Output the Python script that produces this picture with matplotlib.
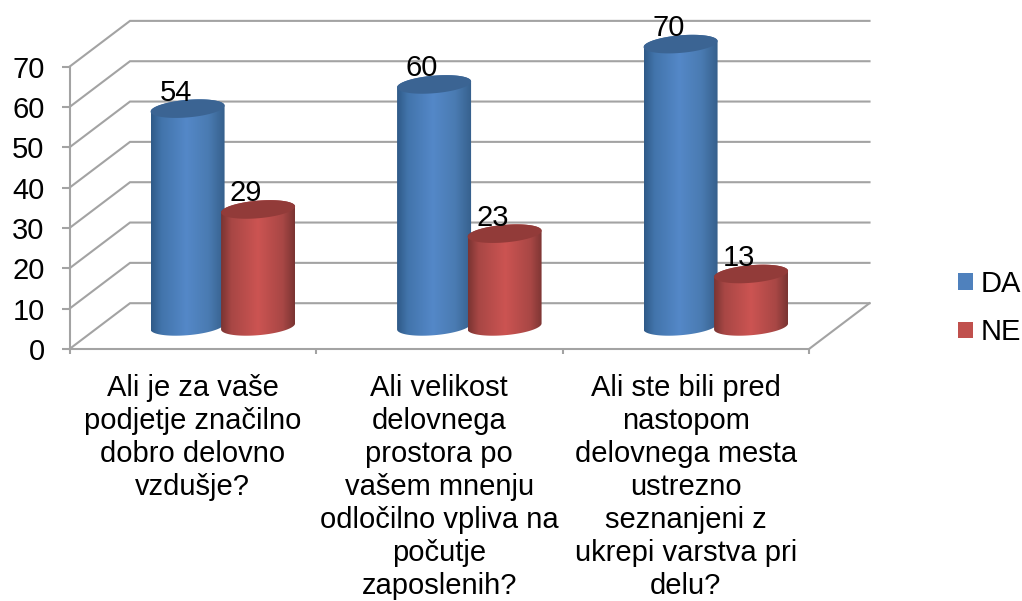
import numpy as np
import matplotlib
matplotlib.use("Agg")
import matplotlib.pyplot as plt
from matplotlib.colors import LinearSegmentedColormap
from matplotlib.patches import PathPatch, Patch
from matplotlib.path import Path

categories = [
    "Ali je za vaše\npodjetje značilno\ndobro delovno\nvzdušje?",
    "Ali velikost\ndelovnega\nprostora po\nvašem mnenju\nodločilno vpliva na\npočutje\nzaposlenih?",
    "Ali ste bili pred\nnastopom\ndelovnega mesta\nustrezno\nseznanjeni z\nukrepi varstva pri\ndelu?",
]
series_names = ["DA", "NE"]
da_values = [54, 60, 70]
ne_values = [29, 23, 13]
y_ticks = [0, 10, 20, 30, 40, 50, 60, 70]

plt.rcParams["font.family"] = ["Liberation Sans", "DejaVu Sans"]
FS = 21
W, H = 1022, 601
PX_X = 246.5          # pixels per category
PX_Y = 4.033          # pixels per value unit
X0, Y0 = 69.5, 349.0  # pixel of the origin
DEPTH_X = 60.5 / PX_X
DEPTH_Y = 45.8 / PX_Y
GRID = "#a3a3a3"

fig = plt.figure(figsize=(W / 100, H / 100), dpi=100)
ax = fig.add_axes([0, 0, 1, 1])
xlim = (-X0 / PX_X, (W - X0) / PX_X)
ylim = ((Y0 - H) / PX_Y, Y0 / PX_Y)

# back wall and side wall lines
for v in y_ticks:
    ax.plot([0, DEPTH_X, 3 + DEPTH_X], [v, v + DEPTH_Y, v + DEPTH_Y],
            color=GRID, lw=1.5, zorder=1, solid_joinstyle="miter")
ax.plot([3, 3 + DEPTH_X], [0, DEPTH_Y], color=GRID, lw=1.5, zorder=1)

def cylinder(cx, value, cmap, top_color):
    a = 37.0 / PX_X
    tilt = 3.0 / PX_Y
    b = 8.8 / PX_Y
    base = 5.6
    t = np.linspace(0, 2 * np.pi, 121)
    ex = a * np.cos(t)
    ey = tilt * np.cos(t) + b * np.sin(t)
    # body outline
    tu = np.linspace(0, np.pi, 61)
    tl = np.linspace(np.pi, 2 * np.pi, 61)
    top_x = cx + a * np.cos(tu)
    top_y = base + value + tilt * np.cos(tu) + b * np.sin(tu)
    bot_x = cx + a * np.cos(tl)
    bot_y = base + tilt * np.cos(tl) + b * np.sin(tl)
    verts = np.column_stack([np.r_[top_x, bot_x, top_x[0]], np.r_[top_y, bot_y, top_y[0]]])
    codes = [Path.MOVETO] + [Path.LINETO] * (len(verts) - 2) + [Path.CLOSEPOLY]
    clip = PathPatch(Path(verts, codes), transform=ax.transData, fc="none", ec="none")
    ax.add_patch(clip)
    grad = np.linspace(0, 1, 128).reshape(1, -1)
    im = ax.imshow(grad, cmap=cmap, aspect="auto", zorder=3, interpolation="bilinear",
                   extent=(cx - a, cx + a, base - b - tilt, base + value + b + tilt))
    im.set_clip_path(clip)
    ax.fill(cx + ex, base + value + ey, color=top_color, lw=0, zorder=3)

blue = LinearSegmentedColormap.from_list("b", [(0, "#2f5a88"), (0.14, "#4274ab"), (0.48, "#5488c8"),
                                               (0.78, "#4a7bb2"), (1, "#36608c")])
red = LinearSegmentedColormap.from_list("r", [(0, "#7a3432"), (0.14, "#a84745"), (0.5, "#cc5452"),
                                              (0.84, "#a84745"), (1, "#7a3432")])

for i in range(len(categories)):
    for offset, vals, cmap, top in ((0.479, da_values, blue, "#3b6493"), (0.765, ne_values, red, "#923b39")):
        cx = i + offset
        cylinder(cx, vals[i], cmap, top)
        ax.annotate(str(vals[i]), (cx, vals[i] + 5.6), xytext=(-12 * 0.72, 8 * 0.72),
                    textcoords="offset points", ha="center", va="baseline",
                    fontsize=FS, color="black", zorder=5)

ax.set_xlim(xlim)
ax.set_ylim(ylim)
ax.patch.set_alpha(0)
for s in ("top", "right"):
    ax.spines[s].set_visible(False)
for s in ("left", "bottom"):
    ax.spines[s].set_position(("data", 0))
    ax.spines[s].set_color(GRID)
    ax.spines[s].set_linewidth(1.5)
    ax.spines[s].set_zorder(2)
ax.spines["left"].set_bounds(0, 70)
ax.spines["bottom"].set_bounds(0, 3)

ax.set_yticks(y_ticks)
ax.set_yticklabels([str(v) for v in y_ticks], fontsize=FS)
ax.tick_params(axis="y", length=5.5, width=1.5, color=GRID, pad=12.5)
ax.set_xticks([0, 1, 2, 3])
ax.set_xticklabels([])
ax.tick_params(axis="x", length=3.5, width=1.5, color=GRID)
ax.set_xticks([0.5, 1.5, 2.5], minor=True)
ax.set_xticklabels(categories, minor=True, fontsize=FS, linespacing=1.23, ha="center")
ax.tick_params(axis="x", which="minor", length=0, pad=18)

handles = [Patch(color="#4f81bd", lw=0), Patch(color="#c0504d", lw=0)]
ax.legend(handles, series_names, loc="upper left",
          bbox_to_anchor=(958 / W, 1 - 270 / H), bbox_transform=fig.transFigure,
          frameon=False, fontsize=FS, handlelength=0.51, handleheight=0.51,
          handletextpad=0.27, labelspacing=0.70, borderpad=0, borderaxespad=0)

fig.savefig("out.png", dpi=100)
